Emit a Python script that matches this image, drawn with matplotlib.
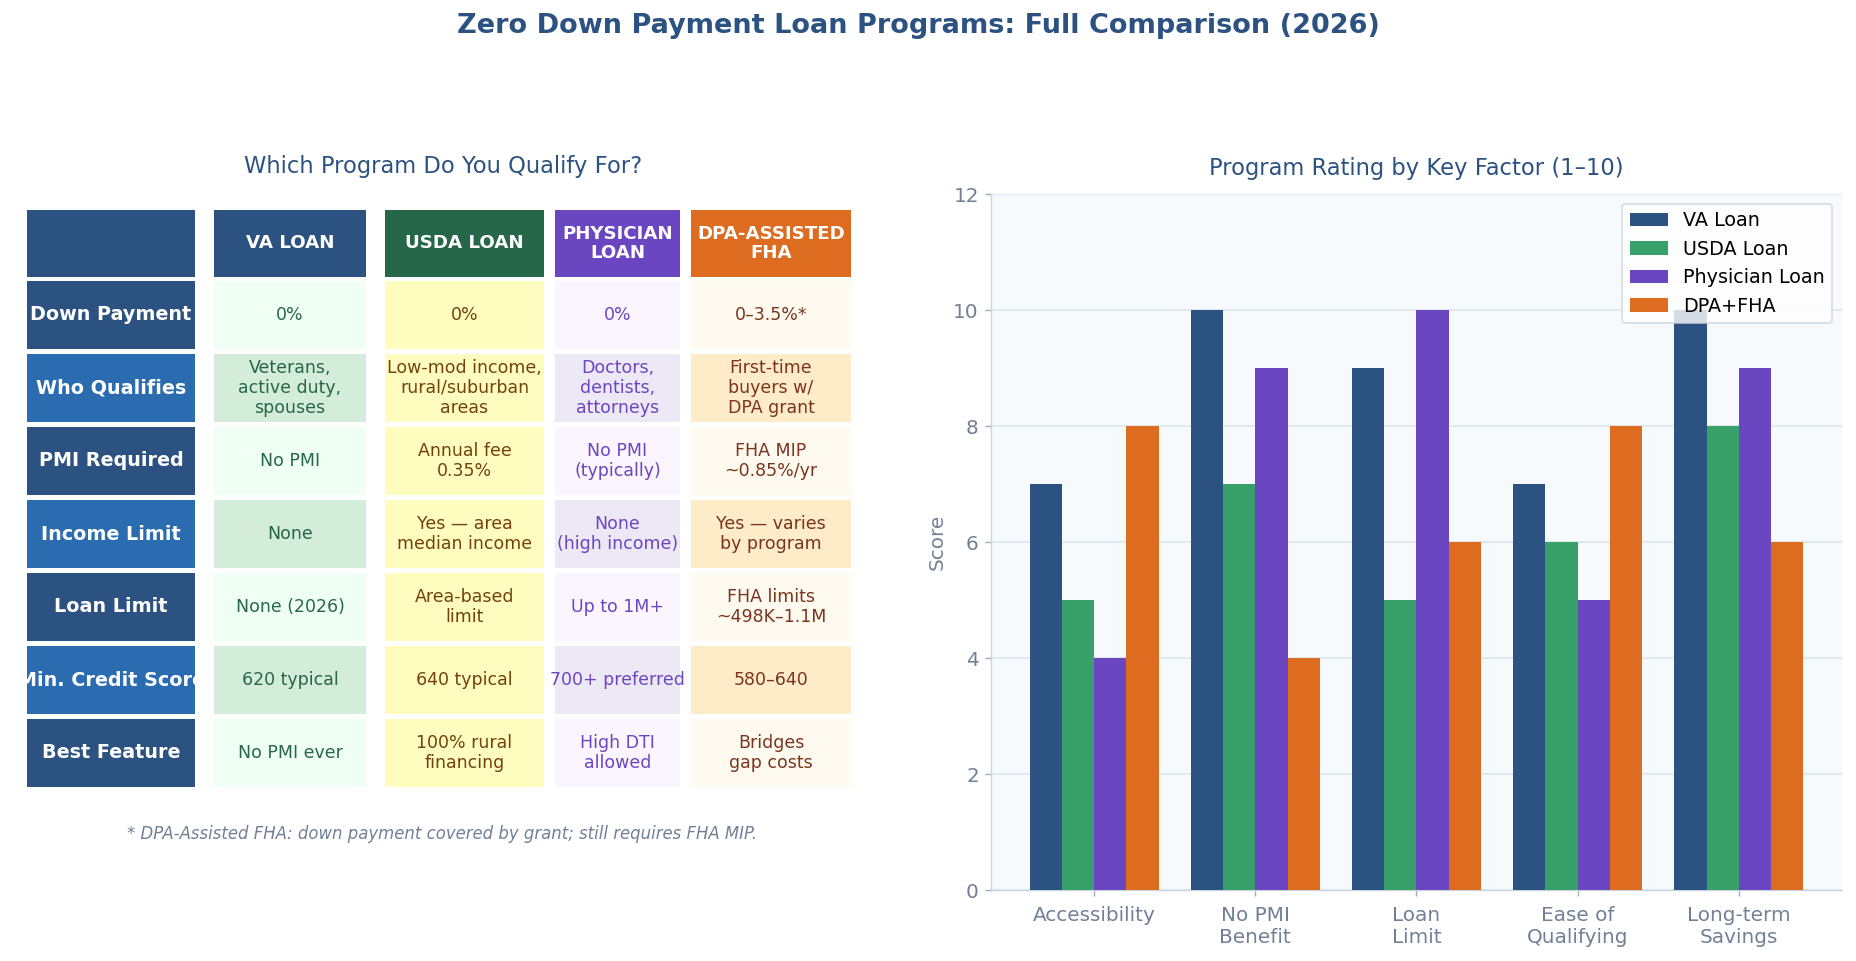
import matplotlib
matplotlib.use("Agg")
import matplotlib.pyplot as plt
import numpy as np
from matplotlib.patches import Rectangle

# ---- data ----
row_labels = ["Down Payment", "Who Qualifies", "PMI Required", "Income Limit",
              "Loan Limit", "Min. Credit Score", "Best Feature"]
programs = ["VA LOAN", "USDA LOAN", "PHYSICIAN\nLOAN", "DPA-ASSISTED\nFHA"]
va_cells = ["0%", "Veterans,\nactive duty,\nspouses", "No PMI", "None",
            "None (2026)", "620 typical", "No PMI ever"]
usda_cells = ["0%", "Low-mod income,\nrural/suburban\nareas", "Annual fee\n0.35%",
              "Yes — area\nmedian income", "Area-based\nlimit", "640 typical",
              "100% rural\nfinancing"]
phys_cells = ["0%", "Doctors,\ndentists,\nattorneys", "No PMI\n(typically)",
              "None\n(high income)", "Up to 1M+", "700+ preferred", "High DTI\nallowed"]
dpa_cells = ["0–3.5%*", "First-time\nbuyers w/\nDPA grant", "FHA MIP\n~0.85%/yr",
             "Yes — varies\nby program", "FHA limits\n~498K–1.1M", "580–640",
             "Bridges\ngap costs"]

factors = ["Accessibility", "No PMI\nBenefit", "Loan\nLimit", "Ease of\nQualifying",
           "Long-term\nSavings"]
series_names = ["VA Loan", "USDA Loan", "Physician Loan", "DPA+FHA"]
va_scores = [7, 10, 9, 7, 10]
usda_scores = [5, 7, 5, 6, 8]
phys_scores = [4, 9, 10, 5, 9]
dpa_scores = [8, 4, 6, 8, 6]

# ---- styles ----
NAVY = "#2C5282"
BLUE = "#2B6CB0"
GREY = "#718096"
head_colors = [NAVY, "#276749", "#6B46C1", "#DD6B20"]
bar_colors = [NAVY, "#38A169", "#6B46C1", "#DD6B20"]
body_bg = [("#F0FFF4", "#D4EDDA"), ("#FEFCBF", "#FEFCBF"),
           ("#FAF5FF", "#ECE8F6"), ("#FFFAF0", "#FEEBC8")]
body_fg = ["#276749", "#744210", "#6B46C1", "#7B341E"]

W, H = 1856, 961
fig = plt.figure(figsize=(W / 125, H / 125), dpi=125, facecolor="white")

# ---- left: comparison table (pixel coordinates) ----
axT = fig.add_axes([0, 0, 1, 1])
axT.set_xlim(0, W)
axT.set_ylim(H, 0)
axT.axis("off")

col_edges = [(27, 195), (214, 366), (385, 544), (555, 680), (691, 851)]
head_top, head_h = 210, 67
row_top0, row_pitch, row_h = 281, 73, 68


def cell(x0, x1, top, h, color):
    r = Rectangle((x0, top), x1 - x0, h, facecolor=color, edgecolor="none", lw=0)
    axT.add_patch(r)
    return r


# header row
cell(*col_edges[0], head_top, head_h, NAVY)
for j, name in enumerate(programs):
    x0, x1 = col_edges[j + 1]
    cell(x0, x1, head_top, head_h, head_colors[j])
    axT.text((x0 + x1) / 2, head_top + head_h / 2, name, ha="center", va="center",
             color="white", fontsize=10.5, fontweight="bold", linespacing=1.1)

columns = [va_cells, usda_cells, phys_cells, dpa_cells]
for i, lab in enumerate(row_labels):
    top = row_top0 + i * row_pitch
    x0, x1 = col_edges[0]
    rect = cell(x0, x1, top, row_h, NAVY if i % 2 == 0 else BLUE)
    t = axT.text((x0 + x1) / 2, top + row_h / 2, lab, ha="center", va="center",
                 color="white", fontsize=11, fontweight="bold")
    t.set_clip_path(rect)
    for j, col in enumerate(columns):
        x0, x1 = col_edges[j + 1]
        cell(x0, x1, top, row_h, body_bg[j][i % 2])
        axT.text((x0 + x1) / 2, top + row_h / 2, col[i], ha="center", va="center",
                 color=body_fg[j], fontsize=10, linespacing=1.15)

fig.text(443 / W, 1 - 167 / H, "Which Program Do You Qualify For?", ha="center",
         va="center", fontsize=13, color=NAVY)
fig.text(442 / W, 1 - 834 / H,
         "* DPA-Assisted FHA: down payment covered by grant; still requires FHA MIP.",
         ha="center", va="center", fontsize=9.5, style="italic", color=GREY)

# ---- right: grouped bars ----
ax = fig.add_axes([991 / W, 1 - 890 / H, (1842 - 991) / W, (890 - 194) / H])
ax.set_facecolor("#F7FAFC")
x = np.arange(len(factors))
bw = 0.2
for k, (vals, name) in enumerate(zip([va_scores, usda_scores, phys_scores, dpa_scores],
                                     series_names)):
    ax.bar(x + (k - 1.5) * bw, vals, bw, color=bar_colors[k], label=name, zorder=3)
ax.set_ylim(0, 12)
ax.set_yticks(range(0, 13, 2))
ax.set_xticks(x)
ax.set_xticklabels(factors)
ax.tick_params(labelsize=11.5, colors="#A0AEC0", labelcolor=GREY)
ax.tick_params(axis="x", pad=5.5)
ax.grid(axis="y", color="#E2E8F0", lw=1.2, zorder=0)
ax.set_axisbelow(True)
for s in ("top", "right"):
    ax.spines[s].set_visible(False)
for s in ("left", "bottom"):
    ax.spines[s].set_color("#CBD5E0")
ax.set_ylabel("Score", fontsize=11.5, color=GREY)
ax.set_title("Program Rating by Key Factor (1–10)", fontsize=13, color=NAVY, pad=11)
ax.legend(loc="upper right", fontsize=11, edgecolor="#CBD5E0")

fig.text(0.4946, 1 - 26 / H, "Zero Down Payment Loan Programs: Full Comparison (2026)",
         ha="center", va="center", fontsize=15.6, fontweight="bold", color=NAVY)

fig.savefig("out.png", dpi=125, facecolor="white")
